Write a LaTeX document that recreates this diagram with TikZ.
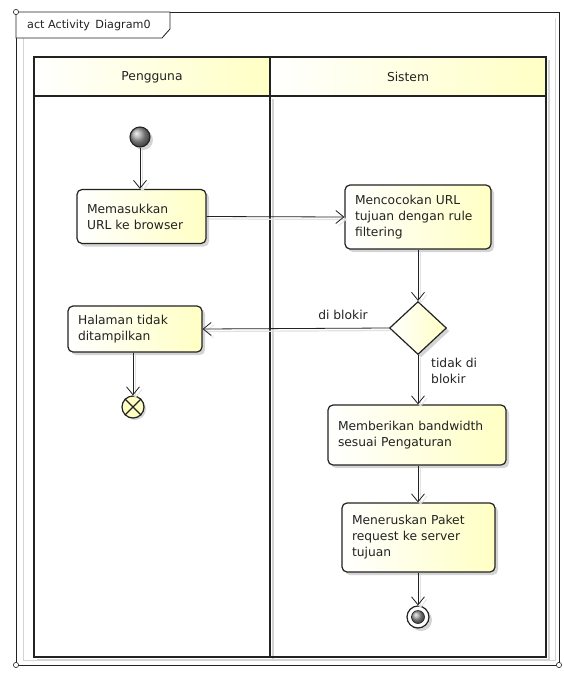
\documentclass[tikz,border=0pt]{standalone}
\usepackage{fontspec}
\setmainfont{DejaVu Sans}
\usetikzlibrary{arrows.meta,shapes.geometric,shadows,calc}
\definecolor{ylw}{HTML}{FFFFC4}
\definecolor{ln}{HTML}{222222}
\definecolor{shd}{HTML}{D4D4D4}
\begin{document}
\begin{tikzpicture}[x=1pt,y=-1pt,
  txt/.style={font=\fontsize{12.3}{16}\selectfont, text=ln},
  act/.style={txt, draw=ln, line width=1.2pt, rounded corners=5pt,
    left color=white, right color=ylw, align=left, inner xsep=10pt, inner ysep=0pt,
    drop shadow={shadow xshift=3pt, shadow yshift=-3pt, fill=shd, opacity=1}},
  lanehead/.style={draw=ln, line width=1.4pt, left color=white, right color=ylw},
  arr/.style={draw=ln, line width=0.8pt, -{Straight Barb[length=8pt,width=13pt,line width=0.8pt]},
    preaction={draw=shd!70, line width=1.2pt, transform canvas={xshift=2.5pt,yshift=-2.5pt}}},
  lbl/.style={txt, inner sep=1pt}
]
\useasboundingbox (0,0) rectangle (564,673);
% frame
\draw[draw=shd, line width=0.8pt] (23,38) -- (23,660) -- (555,660) -- (555,18);
\draw[draw=ln, line width=0.8pt] (16,12) rectangle (559,665);
\draw[draw=ln, line width=0.8pt, fill=white] (16,12) -- (170,12) -- (170,29) -- (162,38) -- (16,38) -- cycle;
\foreach \p in {(16,12),(16,665),(559,665)} \draw[fill=white, draw=ln, line width=0.6pt] \p circle (2.6);
\node[font=\fontsize{11.2}{14}\selectfont, text=ln, anchor=west, inner sep=0pt] (title) at (27,25) {act Activity\, Diagram0};
% lanes
\draw[draw=shd, line width=1.2pt] (37,660) -- (549,660) -- (549,60);
\draw[draw=shd, line width=1.2pt] (273,99) -- (273,660);
\draw[lanehead] (34,57) rectangle (270,96);
\draw[lanehead] (270,57) rectangle (546,96);
\draw[draw=ln, line width=1.4pt] (34,96) rectangle (546,657);
\draw[draw=ln, line width=1.4pt] (270,96) -- (270,657);
\node[txt] (lane1) at (152,77) {Pengguna};
\node[txt] (lane2) at (408,77) {Sistem};
% nodes
\node[circle, draw=ln, line width=1.1pt, minimum size=20pt, inner sep=0pt, shading=ball, ball color=gray!75,
  drop shadow={shadow xshift=3pt, shadow yshift=-3pt, fill=shd, opacity=1}] (start) at (140,137) {};
\node[act, text width=109pt, minimum height=54pt] (a1) at (141.5,216.5) {Memasukkan\\URL ke browser};
\node[act, text width=126pt, minimum height=64pt] (a2) at (418,217) {Mencocokan URL\\tujuan dengan rule\\filtering};
\node[diamond, draw=ln, line width=1.2pt, left color=white, right color=ylw, minimum width=57pt, minimum height=53pt, inner sep=0pt,
  drop shadow={shadow xshift=3pt, shadow yshift=-3pt, fill=shd, opacity=1}] (dec) at (418,328) {};
\node[act, text width=114pt, minimum height=46pt] (a3) at (135,329) {Halaman tidak\\ditampilkan};
\node[circle, draw=ln, line width=1.2pt, fill=ylw, minimum size=22pt, inner sep=0pt,
  drop shadow={shadow xshift=2pt, shadow yshift=-2pt, fill=shd, opacity=1}] (ff) at (133,407) {};
\draw[draw=ln, line width=1.2pt] (ff.north east) -- (ff.south west) (ff.north west) -- (ff.south east);
\node[act, text width=158pt, minimum height=60pt] (a4) at (417,435) {Memberikan bandwidth\\sesuai Pengaturan};
\node[act, text width=133pt, minimum height=69pt] (a5) at (418.5,537.5) {Meneruskan Paket\\request ke server\\tujuan};
\node[circle, draw=ln, line width=1.2pt, fill=white, minimum size=22pt, inner sep=0pt,
  drop shadow={shadow xshift=3pt, shadow yshift=-3pt, fill=shd, opacity=1}] (fin) at (418,617) {};
\node[circle, draw=ln, line width=0.6pt, minimum size=13pt, inner sep=0pt, shading=ball, ball color=gray!80] (fincore) at (fin.center) {};
% connectors
\draw[arr] (start) -- (start |- a1.north);
\draw[arr] (a1.east) -- (a2.west);
\draw[arr] (a2.south) -- (dec.north);
\draw[arr] (dec.west) -- (a3.east);
\draw[arr] (dec.south) -- (dec.south |- a4.north);
\draw[arr] (dec.south |- a4.south) -- (dec.south |- a5.north);
\draw[arr] (dec.south |- a5.south) -- (fin.north);
\draw[arr] (a3.south -| ff.center) -- (ff.north);
% labels
\node[lbl] (l1) at (343,315) {di blokir};
\node[lbl, anchor=north west, align=left] (l2) at (430,357) {tidak di\\blokir};
\end{tikzpicture}
\end{document}
